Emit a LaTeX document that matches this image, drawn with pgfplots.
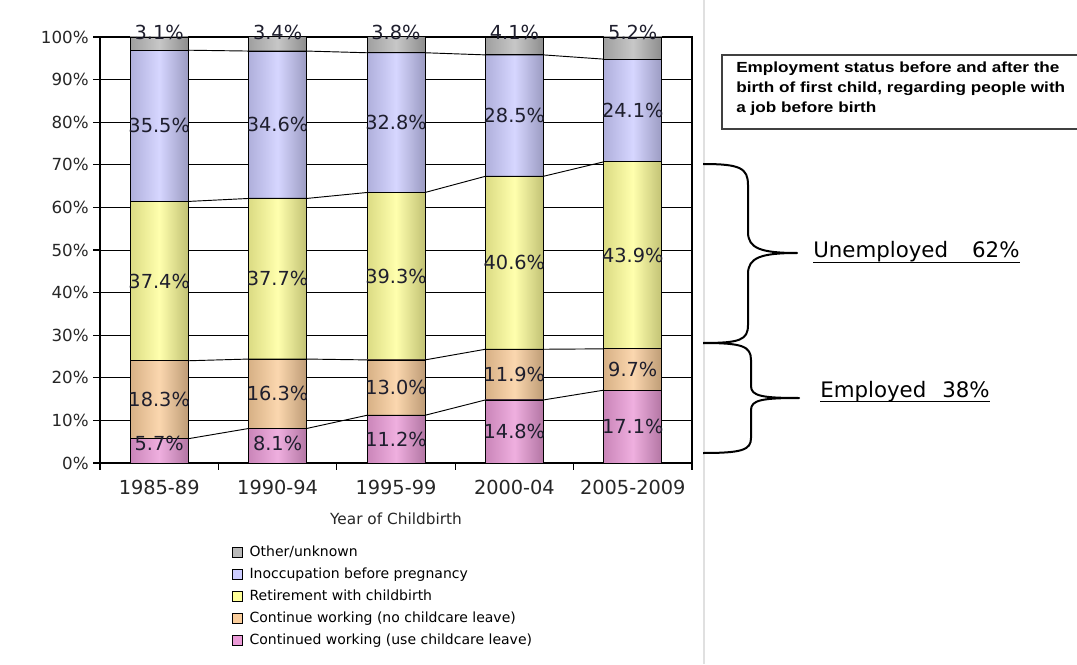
\documentclass[border=0pt]{standalone}
\usepackage{fontspec}
\setmainfont{DejaVu Sans}
\newfontfamily\arialfont[FakeStretch=1.17]{Liberation Sans}
\usepackage{pgfplots}
\usepackage{pgfplotstable}
\pgfplotsset{compat=1.18}

\definecolor{cgrey}{RGB}{185,185,185}
\definecolor{cblue}{RGB}{204,204,255}
\definecolor{cyel}{RGB}{255,255,153}
\definecolor{corg}{RGB}{250,205,155}
\definecolor{cpink}{RGB}{235,155,215}
\definecolor{lbl}{RGB}{30,30,45}

\tikzset{
  px/.style={x=0.75pt,y=-0.75pt,shift={(-75pt,347.25pt)}},
  barshade/.style={left color=#1!86!black, right color=#1!76!black, middle color=#1!80!white}
}

\pgfplotstableread{
x pink orange yellow blue grey
0 5.7 18.3 37.4 35.5 3.1
1 8.1 16.3 37.7 34.6 3.4
2 11.2 13.0 39.3 32.8 3.8
3 14.8 11.9 40.6 28.5 4.1
4 17.1 9.7 43.9 24.1 5.2
}\datatable

\pgfplotstableread{
x l1 l2 l3 l4
0.245 5.7 24.0 61.4 96.9
0.755 8.1 24.4 62.1 96.7
1.245 8.1 24.4 62.1 96.7
1.755 11.2 24.2 63.5 96.3
2.245 11.2 24.2 63.5 96.3
2.755 14.8 26.7 67.3 95.8
3.245 14.8 26.7 67.3 95.8
3.755 17.1 26.8 70.7 94.8
}\seriestable

\pgfplotstableread{
x y v
0 4.7 5.7
1 4.7 8.1
2 5.6 11.2
3 7.4 14.8
4 8.55 17.1
0 14.85 18.3
1 16.25 16.3
2 17.7 13.0
3 20.75 11.9
4 21.95 9.7
0 42.7 37.4
1 43.25 37.7
2 43.85 39.3
3 47.0 40.6
4 48.75 43.9
0 79.15 35.5
1 79.4 34.6
2 79.9 32.8
3 81.55 28.5
4 82.75 24.1
0 101 3.1
1 101 3.4
2 101 3.8
3 101 4.1
4 101 5.2
}\labeltable

\pgfplotsset{
  samebox/.style={at={(0pt,0pt)}, anchor=south west,
    scale only axis, width=444pt, height=319.5pt,
    xmin=-0.5, xmax=4.5, ymin=0, ymax=100, clip=false}
}

\begin{document}
\begin{tikzpicture}
\useasboundingbox (-75pt,-150.75pt) rectangle (732.75pt,347.25pt);

% frame, grid, ticks, legend
\begin{axis}[
  samebox,
  axis line style={black, line width=0.8pt},
  xtick={-0.5,0.5,1.5,2.5,3.5,4.5}, xticklabels={},
  extra x ticks={0,1,2,3,4},
  extra x tick labels={1985-89,1990-94,1995-99,2000-04,2005-2009},
  extra x tick style={major tick length=0pt, xticklabel style={font=\fontsize{14.5}{17}\selectfont, yshift=-9pt, text=black!85}},
  ytick={0,10,...,100},
  yticklabel={\pgfmathprintnumber{\tick}\%},
  yticklabel style={font=\fontsize{12.5}{15}\selectfont, text=black!85},
  xtick pos=left, ytick pos=left,
  tick align=outside, major tick length=5pt,
  tick style={black, line width=0.8pt},
  ymajorgrids, grid style={black, line width=0.6pt},
  /pgf/number format/assume math mode=true,
  xlabel={Year of Childbirth},
  xlabel style={font=\fontsize{11.5}{14}\selectfont, at={(axis description cs:0.5,0)}, anchor=base, yshift=-45.75pt, text=black!85},
  legend style={at={(axis description cs:0.223,-0.19)}, anchor=north west, draw=none, fill=none,
    font=\fontsize{10.5}{12}\selectfont, inner sep=0pt, row sep=4pt,
    nodes={inner sep=1pt, text height=8pt, text depth=2.5pt},
    /tikz/every odd column/.append style={column sep=4pt}},
  legend cell align=left,
  legend image code/.code={\draw[#1, draw=black, line width=0.5pt] (0pt,-3.75pt) rectangle (7.5pt,3.75pt);},
]
\addlegendimage{fill=cgrey}
\addlegendentry{Other/unknown}
\addlegendimage{fill=cblue}
\addlegendentry{Inoccupation before pregnancy}
\addlegendimage{fill=cyel}
\addlegendentry{Retirement with childbirth}
\addlegendimage{fill=corg}
\addlegendentry{Continue working (no childcare leave)}
\addlegendimage{fill=cpink}
\addlegendentry{Continued working (use childcare leave)}
\end{axis}

% bars, one overlaid axis per category so each bar gets its own shading
\foreach \c in {0,...,4}{
\begin{axis}[
  samebox, hide axis,
  ybar stacked, bar width=43.5pt,
  x filter/.expression={abs(x-\c)<0.1 ? x : nan}, unbounded coords=discard,
]
\addplot[draw=black, line width=0.6pt, barshade=cpink] table[x=x,y=pink] {\datatable};
\addplot[draw=black, line width=0.6pt, barshade=corg] table[x=x,y=orange] {\datatable};
\addplot[draw=black, line width=0.6pt, barshade=cyel] table[x=x,y=yellow] {\datatable};
\addplot[draw=black, line width=0.6pt, barshade=cblue] table[x=x,y=blue] {\datatable};
\addplot[draw=black, line width=0.6pt, barshade=cgrey] table[x=x,y=grey] {\datatable};
\end{axis}
}

% series lines and data labels
\begin{axis}[
  samebox, hide axis,
  /pgf/number format/assume math mode=true,
]
\addplot[black, line width=0.7pt] table[x=x,y=l1] {\seriestable};
\addplot[black, line width=0.7pt] table[x=x,y=l2] {\seriestable};
\addplot[black, line width=0.7pt] table[x=x,y=l3] {\seriestable};
\addplot[black, line width=0.7pt] table[x=x,y=l4] {\seriestable};
\addplot[draw=none, mark=none, point meta=explicit,
  nodes near coords={\pgfmathprintnumber[fixed,fixed zerofill,precision=1]{\pgfplotspointmeta}\%},
  every node near coord/.append style={anchor=center, font=\fontsize{14.5}{17}\selectfont, text=lbl, inner sep=0pt}]
  table[x=x,y=y,meta=v] {\labeltable};
\end{axis}

\begin{scope}[px]
\draw[black!12, line width=0.8pt] (704,0) -- (704,664);
\draw[black!75, line width=1pt] (722,55) rectangle (1120,129);
\node[anchor=north west, align=left, inner sep=0pt, font=\arialfont\bfseries\fontsize{11}{15}\selectfont] at (736,62) {Employment status before and after the\\birth of first child, regarding people with\\a job before birth};
\draw[line width=1.5pt, line join=round] (703,164) .. controls (740,164) and (748,168) .. (748,185) -- (748,232) .. controls (748,248) and (760,253) .. (797,253) .. controls (760,253) and (748,258) .. (748,274) -- (748,325) .. controls (748,340) and (740,343) .. (703,343);
\draw[line width=1.5pt, line join=round] (703,343) .. controls (742,343) and (751,346) .. (751,360) -- (751,386) .. controls (751,396) and (762,398) .. (799,398) .. controls (762,398) and (751,400) .. (751,410) -- (751,438) .. controls (751,450) and (742,453) .. (703,453);
\node[anchor=base west, inner sep=0pt, font=\fontsize{16}{19}\selectfont] (u) at (813,258) {Unemployed\hspace{18pt}62\%};
\draw[line width=0.8pt] (u.south west) -- (u.south east);
\node[anchor=base west, inner sep=0pt, font=\fontsize{16}{19}\selectfont] (e) at (820,397) {Employed\hspace{12pt}38\%};
\draw[line width=0.8pt] (e.south west) -- (e.south east);
\end{scope}
\end{tikzpicture}
\end{document}
